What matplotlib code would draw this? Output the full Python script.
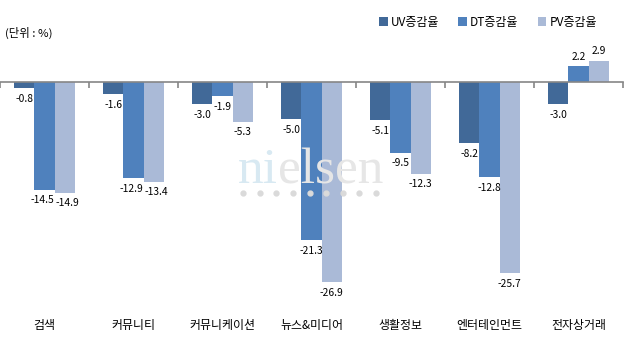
import matplotlib
matplotlib.use("Agg")
import matplotlib.pyplot as plt
import matplotlib.transforms as mtransforms
import numpy as np

plt.rcParams["font.family"] = ["Noto Sans CJK KR", "DejaVu Sans"]

categories = ["검색", "커뮤니티", "커뮤니케이션", "뉴스&미디어", "생활정보", "엔터테인먼트", "전자상거래"]
series_names = ["UV증감율", "DT증감율", "PV증감율"]
uv_values = [-0.8, -1.6, -3.0, -5.0, -5.1, -8.2, -3.0]
dt_values = [-14.5, -12.9, -1.9, -21.3, -9.5, -12.8, 2.2]
pv_values = [-14.9, -13.4, -5.3, -26.9, -12.3, -25.7, 2.9]
colors = ["#416998", "#4F81BD", "#AABAD7"]


def main():
    fig = plt.figure(figsize=(6.26, 3.46), dpi=100)
    ax = fig.add_axes([0.0, 0.1185, 0.995, 0.7514])

    x = np.arange(len(categories))
    width = 0.228
    all_values = [uv_values, dt_values, pv_values]
    for i, (name, vals, color) in enumerate(zip(series_names, all_values, colors)):
        pos = x + (i - 1) * width
        ax.bar(pos, vals, width=width, color=color, label=name, zorder=2)
        for j, (px, v) in enumerate(zip(pos, vals)):
            offset = 3 if v > 0 else -4
            # DT/PV labels at nearly the same height get pushed apart a bit
            dx = 0
            if i > 0 and abs(dt_values[j] - pv_values[j]) < 1.5 and v < 0:
                dx = -1.6 if i == 1 else 1.6
            ax.annotate(f"{v:.1f}", (px, v), xytext=(dx, offset), textcoords="offset points",
                        ha="center", va="bottom" if v > 0 else "top", fontsize=7.4, color="black")

    ax.set_xlim(-0.5, len(categories) - 0.5)
    ax.set_ylim(-30, 5)

    for side in ["top", "right", "left"]:
        ax.spines[side].set_visible(False)
    ax.spines["bottom"].set_position(("data", 0))
    ax.spines["bottom"].set_color("#868686")
    ax.spines["bottom"].set_linewidth(1.2)
    ax.spines["bottom"].set_zorder(3)
    ax.set_yticks([])
    ax.set_xticks(np.arange(-0.5, len(categories), 1.0))
    ax.set_xticklabels([])
    ax.tick_params(axis="x", direction="out", length=4, color="#868686", width=1.2)

    trans = mtransforms.blended_transform_factory(ax.transData, fig.transFigure)
    for xi, cat in zip(x, categories):
        ax.text(xi, 0.058, cat, transform=trans, ha="center", va="center", fontsize=8.6)

    fig.text(0.008, 0.905, "(단위 : %)", ha="left", va="center", fontsize=8.2)

    # watermark
    t1 = fig.text(0.38, 0.47, "ni", family="Liberation Serif", fontsize=37, color="#D8E9F2",
                  ha="left", va="baseline", zorder=0)
    renderer = fig.canvas.get_renderer()
    x_end = t1.get_window_extent(renderer).x1 / fig.bbox.width
    fig.text(x_end, 0.47, "elsen", family="Liberation Serif", fontsize=37, color="#E6E6E6",
             ha="left", va="baseline", zorder=0)
    dot_x = np.linspace(243, 376, 9) / 626
    fig.lines.append(plt.Line2D(dot_x, [1 - 193 / 346] * 9, transform=fig.transFigure, ls="none",
                                marker="o", ms=3.5, color="#DADADA", zorder=0))

    ax.legend(loc="center right", bbox_to_anchor=(0.968, 1.088), ncol=3, frameon=False, fontsize=8.6,
              handlelength=0.75, handleheight=0.75, handletextpad=0.25, columnspacing=1.6, borderpad=0)

    fig.savefig("out.png", dpi=100)


if __name__ == "__main__":
    main()
